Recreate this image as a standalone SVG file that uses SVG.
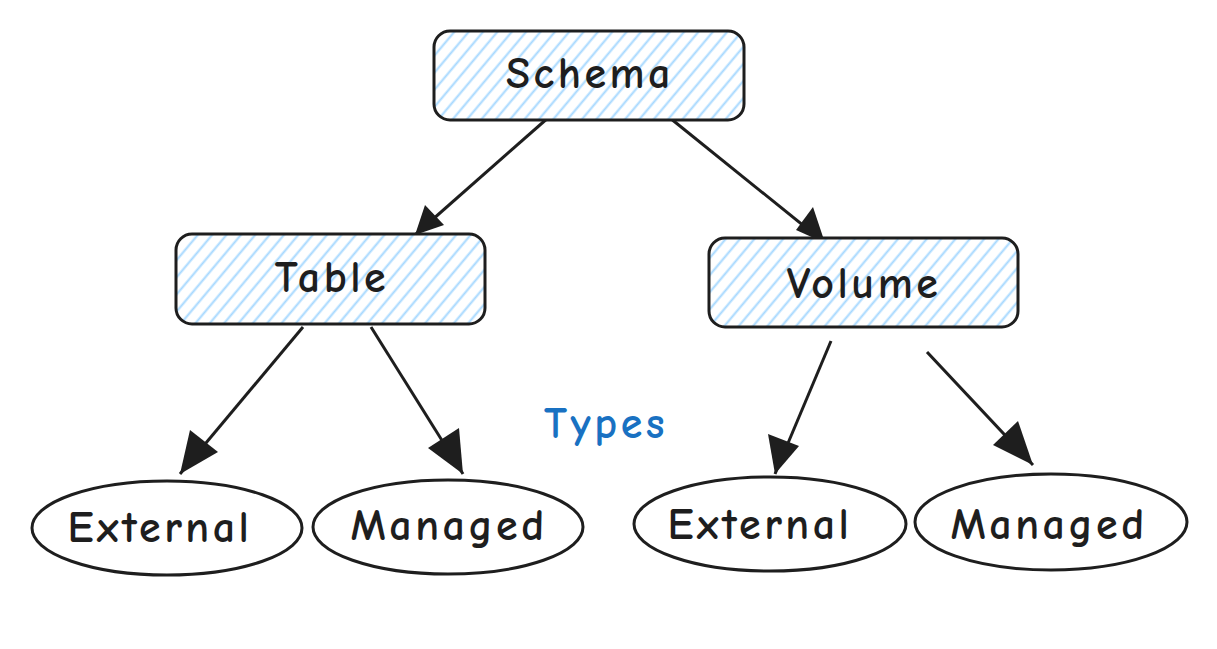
<svg xmlns="http://www.w3.org/2000/svg" width="1217" height="649" viewBox="0 0 1217 649">
<style>
.box{fill:url(#hatch);stroke:#1e1e1e;stroke-width:3}
.oval{fill:#fff;stroke:#1e1e1e;stroke-width:3}
.lbl{font-family:"Comic Neue","Noto Sans","Liberation Sans",sans-serif;font-size:44px;font-weight:bold;letter-spacing:3.5px;fill:#1e1e1e;text-anchor:middle;dominant-baseline:central}
.edge{stroke:#1e1e1e;stroke-width:3;fill:none}
</style>
<defs>
<pattern id="hatch" patternUnits="userSpaceOnUse" width="11" height="11" patternTransform="rotate(-50)">
<rect width="11" height="11" fill="#fff"/>
<line x1="0" y1="5.5" x2="11" y2="5.5" stroke="#a5d8ff" stroke-width="2"/>
</pattern>
</defs>
<rect width="1217" height="649" fill="#fff"/>
<g id="edges">
<line class="edge" x1="549" y1="117" x2="415" y2="235"/>
<path d="M415,235 L425,205 L444,225 Z" fill="#1e1e1e"/>
<line class="edge" x1="670" y1="118" x2="825" y2="243"/>
<path d="M825,243 L796,230 L813,207 Z" fill="#1e1e1e"/>
<line class="edge" x1="303" y1="327" x2="180" y2="474"/>
<path d="M180,474 L190,430 L218,452 Z" fill="#1e1e1e"/>
<line class="edge" x1="371" y1="327" x2="463" y2="474"/>
<path d="M463,474 L428,448 L459,428 Z" fill="#1e1e1e"/>
<line class="edge" x1="831" y1="341" x2="775" y2="474"/>
<path d="M775,474 L768,434 L799,446 Z" fill="#1e1e1e"/>
<line class="edge" x1="927" y1="352" x2="1033" y2="465"/>
<path d="M1033,465 L993,445 L1018,421 Z" fill="#1e1e1e"/>
</g>
<g id="schema">
<rect class="box" x="434" y="31" width="310" height="89" rx="16"/>
<text class="lbl" x="590" y="73">Schema</text>
</g>
<g id="table">
<rect class="box" x="176" y="234" width="309" height="90" rx="16"/>
<text class="lbl" x="332" y="277">Table</text>
</g>
<g id="volume">
<rect class="box" x="709" y="238" width="309" height="89" rx="16"/>
<text class="lbl" x="864" y="283">Volume</text>
</g>
<g id="types">
<text class="lbl" x="606" y="423" style="fill:#1971c2">Types</text>
</g>
<g id="table-external">
<ellipse class="oval" cx="167" cy="528" rx="135" ry="47"/>
<text class="lbl" x="160" y="527">External</text>
</g>
<g id="table-managed">
<ellipse class="oval" cx="448" cy="527" rx="135" ry="47"/>
<text class="lbl" x="449" y="525">Managed</text>
</g>
<g id="volume-external">
<ellipse class="oval" cx="770" cy="524" rx="136" ry="47"/>
<text class="lbl" x="760" y="524">External</text>
</g>
<g id="volume-managed">
<ellipse class="oval" cx="1051" cy="522" rx="136" ry="48"/>
<text class="lbl" x="1049" y="524">Managed</text>
</g>
</svg>
